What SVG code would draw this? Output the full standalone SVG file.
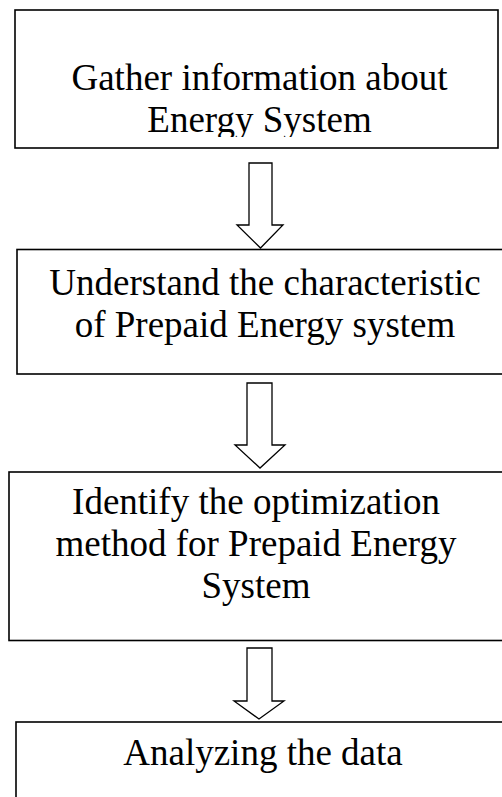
<svg xmlns="http://www.w3.org/2000/svg" width="502" height="797" viewBox="0 0 502 797">
<style>
.box{fill:#fff;stroke:#000;stroke-width:1.6}
.arr{fill:#fff;stroke:#000;stroke-width:1.3;stroke-linejoin:miter}
.t{font-family:"Liberation Serif","Times New Roman",serif;font-size:37px;fill:#000;text-anchor:middle}
</style>
<defs>
<clipPath id="c1"><rect x="15" y="10" width="483" height="127"/></clipPath>
</defs>
<rect width="502" height="797" fill="#fff"/>
<g id="n1">
<rect class="box" x="15" y="10" width="483" height="138"/>
<g clip-path="url(#c1)">
<text class="t" x="259.5" y="90">Gather information about</text>
<text class="t" x="259.5" y="132">Energy System</text>
</g>
</g>
<g id="n2">
<rect class="box" x="17" y="249.5" width="500" height="124.5"/>
<text class="t" x="265" y="295">Understand the characteristic</text>
<text class="t" x="265" y="337">of Prepaid Energy system</text>
</g>
<g id="n3">
<rect class="box" x="9" y="472" width="510" height="168.5"/>
<text class="t" x="256" y="514">Identify the optimization</text>
<text class="t" x="256" y="556">method for Prepaid Energy</text>
<text class="t" x="256" y="598">System</text>
</g>
<g id="n4">
<rect class="box" x="16" y="722" width="500" height="100"/>
<text class="t" x="263" y="765">Analyzing the data</text>
</g>
<g id="connectors">
<polygon class="arr" points="249,163 272,163 272,225 283,225 260.5,248 237,225 249,225"/>
<polygon class="arr" points="247,383 272,383 272,445 285,445 260,468 235,445 247,445"/>
<polygon class="arr" points="247,648 272,648 272,701 284,701 259,719 234,701 247,701"/>
</g>
</svg>
